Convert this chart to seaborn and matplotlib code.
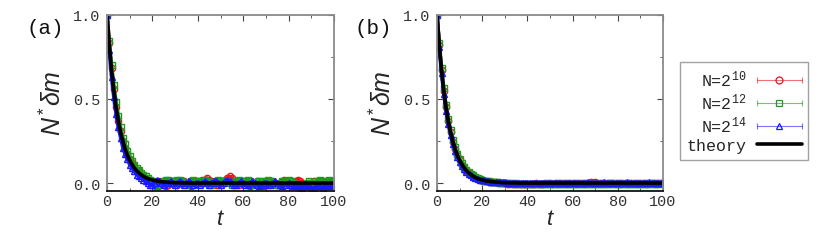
import numpy as np
import pandas as pd
import matplotlib
matplotlib.use("Agg")
import matplotlib.pyplot as plt
import seaborn as sns
from matplotlib.lines import Line2D
from matplotlib.legend_handler import HandlerLine2D, HandlerTuple
from matplotlib.ticker import MultipleLocator

# ---------------- data ----------------
t = list(range(0, 101))

theory_t = list(range(0, 41)) + [100]
theory_y = [1.000, 0.819, 0.670, 0.549, 0.449, 0.368, 0.301, 0.247, 0.202, 0.165,
            0.135, 0.111, 0.091, 0.074, 0.061, 0.050, 0.041, 0.033, 0.027, 0.022,
            0.018, 0.015, 0.012, 0.010, 0.008, 0.007, 0.006, 0.005, 0.004, 0.003,
            0.002, 0.002, 0.002, 0.001, 0.001, 0.001, 0.000, 0.000, 0.000, 0.000,
            0.000, 0.000]

# panel (a)
a_n10 = [1.00, 0.83, 0.68, 0.56, 0.45, 0.37, 0.31, 0.25, 0.21, 0.17, 0.14, 0.12, 0.10, 0.08, 0.07, 0.05, 0.04, 0.03, 0.02, 0.01, 0.00,
         -0.01, 0.00, 0.01, 0.00, -0.01, -0.02, -0.01, 0.00, 0.01, 0.00, -0.01, 0.00, 0.01, 0.01, 0.00, -0.01, -0.02, -0.01, 0.00, 0.01,
         0.01, 0.02, 0.02, 0.03, 0.02, 0.01, 0.00, -0.01, -0.01, 0.00, 0.01, 0.02, 0.03, 0.04, 0.03, 0.01, 0.00, -0.01, 0.00, 0.01,
         0.00, -0.01, -0.02, -0.01, 0.00, 0.01, 0.00, -0.01, -0.02, -0.01, 0.00, 0.01, 0.01, 0.00, -0.01, 0.00, 0.01, 0.02, 0.01, 0.00,
         -0.01, 0.00, 0.01, 0.02, 0.01, 0.00, -0.01, -0.02, -0.01, 0.00, 0.01, 0.00, -0.01, 0.00, 0.01, 0.00, -0.01, 0.00, 0.01, 0.00]
a_n12 = [1.00, 0.84, 0.70, 0.58, 0.48, 0.40, 0.33, 0.27, 0.23, 0.19, 0.16, 0.13, 0.11, 0.09, 0.08, 0.06, 0.05, 0.04, 0.03, 0.02, 0.01,
         -0.01, -0.02, -0.01, 0.00, 0.01, 0.02, 0.02, 0.01, 0.00, 0.01, 0.02, 0.02, 0.01, 0.00, -0.01, 0.00, 0.01, 0.02, 0.01, 0.00,
         0.00, 0.01, 0.02, 0.01, 0.00, -0.01, 0.00, 0.01, 0.02, 0.01, 0.00, 0.01, 0.01, 0.00, -0.01, 0.00, 0.01, 0.02, 0.01, 0.00,
         0.01, 0.02, 0.01, 0.00, -0.01, 0.00, 0.01, 0.01, 0.00, 0.01, 0.02, 0.01, 0.00, -0.01, -0.01, 0.00, 0.01, 0.00, 0.01, 0.02,
         0.01, 0.00, -0.01, -0.02, -0.03, -0.02, -0.01, 0.00, 0.01, 0.00, -0.01, 0.00, 0.01, 0.02, 0.01, 0.00, 0.01, 0.02, 0.01, 0.01]
a_n14 = [1.00, 0.79, 0.63, 0.51, 0.41, 0.33, 0.27, 0.21, 0.17, 0.14, 0.11, 0.09, 0.07, 0.05, 0.04, 0.03, 0.02, 0.01, 0.00, -0.01, -0.01,
         0.00, 0.02, 0.01, 0.00, -0.01, 0.00, 0.00, 0.01, 0.00, -0.01, 0.00, 0.01, 0.00, -0.01, 0.00, 0.01, 0.00, -0.01, 0.00, 0.00,
         -0.01, 0.00, 0.01, 0.00, -0.01, 0.00, 0.01, 0.01, 0.00, -0.01, 0.00, 0.01, 0.02, 0.01, 0.00, -0.01, -0.01, 0.00, 0.01, 0.00,
         -0.01, -0.01, 0.00, 0.01, 0.00, -0.01, -0.02, -0.01, 0.00, 0.00, -0.01, -0.01, 0.00, 0.01, 0.00, -0.01, -0.02, -0.01, -0.01, 0.00,
         -0.01, -0.02, -0.02, -0.01, -0.02, -0.03, -0.02, -0.01, -0.02, -0.03, -0.03, -0.02, -0.01, -0.02, -0.03, -0.02, -0.02, -0.01, -0.02, -0.01]

# panel (b)
b_n10 = [1.000, 0.820, 0.671, 0.548, 0.450, 0.367, 0.302, 0.246, 0.203, 0.164, 0.136, 0.110, 0.092, 0.073, 0.062, 0.049, 0.042, 0.032, 0.028, 0.021, 0.018,
         0.014, 0.011, 0.009, 0.007, 0.005, 0.004, 0.002, 0.001, 0.000, -0.002, -0.003, -0.004, -0.003, -0.004, -0.005, -0.004, -0.003, -0.004, -0.005, -0.004,
         -0.003, -0.004, -0.003, -0.002, -0.003, -0.004, -0.003, -0.002, -0.001, -0.002, -0.003, -0.002, -0.001, 0.000, -0.001, -0.002, -0.001, 0.000, 0.001, 0.000,
         0.001, 0.002, 0.001, 0.002, 0.003, 0.002, 0.003, 0.004, 0.003, 0.004, 0.003, 0.002, 0.001, 0.000, -0.001, 0.000, 0.001, 0.000, -0.001, 0.000,
         0.001, 0.002, 0.001, 0.000, -0.001, 0.000, 0.001, 0.002, 0.001, 0.000, 0.001, 0.002, 0.003, 0.002, 0.001, 0.000, 0.001, 0.000, -0.001, 0.000]
b_n12 = [1.000, 0.830, 0.685, 0.562, 0.462, 0.380, 0.312, 0.257, 0.212, 0.174, 0.143, 0.118, 0.097, 0.080, 0.066, 0.054, 0.045, 0.037, 0.030, 0.025, 0.021,
         0.015, 0.012, 0.010, 0.008, 0.006, 0.005, 0.004, 0.003, 0.002, 0.001, 0.000, -0.001, -0.002, -0.003, -0.002, -0.003, -0.004, -0.003, -0.004, -0.005,
         -0.004, -0.005, -0.004, -0.003, -0.004, -0.005, -0.004, -0.005, -0.006, -0.005, -0.004, -0.005, -0.004, -0.003, -0.004, -0.005, -0.004, -0.003, -0.004, -0.005,
         -0.004, -0.005, -0.006, -0.005, -0.004, -0.005, -0.004, -0.003, -0.004, -0.005, -0.004, -0.003, -0.004, -0.005, -0.004, -0.003, -0.002, -0.003, -0.004, -0.003,
         -0.004, -0.005, -0.004, -0.003, -0.004, -0.005, -0.006, -0.005, -0.004, -0.003, -0.004, -0.005, -0.004, -0.003, -0.002, -0.003, -0.004, -0.003, -0.002, -0.003]
b_n14 = [1.000, 0.805, 0.652, 0.530, 0.430, 0.350, 0.285, 0.232, 0.189, 0.154, 0.125, 0.102, 0.083, 0.067, 0.055, 0.045, 0.036, 0.030, 0.024, 0.019, 0.016,
         0.016, 0.013, 0.011, 0.009, 0.008, 0.007, 0.006, 0.005, 0.004, 0.004, 0.003, 0.003, 0.003, 0.002, 0.003, 0.003, 0.002, 0.003, 0.003, 0.002,
         0.003, 0.003, 0.002, 0.003, 0.003, 0.002, 0.003, 0.003, 0.003, 0.002, 0.003, 0.003, 0.002, 0.003, 0.003, 0.002, 0.003, 0.003, 0.002, 0.003,
         0.003, 0.002, 0.003, 0.003, 0.002, 0.003, 0.004, 0.003, 0.002, 0.003, 0.003, 0.002, 0.003, 0.004, 0.003, 0.002, 0.003, 0.003, 0.002, 0.003,
         0.003, 0.002, 0.003, 0.004, 0.003, 0.002, 0.003, 0.003, 0.002, 0.003, 0.003, 0.002, 0.003, 0.004, 0.003, 0.002, 0.003, 0.003, 0.002, 0.003]

series_labels = ["N=2$^{10}$", "N=2$^{12}$", "N=2$^{14}$"]
series_colors = ["#e8141a", "#1f9a1f", "#1a1aff"]
series_markers = ["o", "s", "^"]

panels = {"(a)": [a_n10, a_n12, a_n14], "(b)": [b_n10, b_n12, b_n14]}

# ---------------- style ----------------
sns.set_theme(style="ticks")
plt.rcParams["font.family"] = ["Liberation Mono", "DejaVu Sans"]
plt.rcParams["mathtext.default"] = "regular"
plt.rcParams["mathtext.fontset"] = "custom"
plt.rcParams["mathtext.it"] = "Liberation Sans:italic"
plt.rcParams["mathtext.rm"] = "Liberation Sans"

W, H = 817, 253
fig = plt.figure(figsize=(W / 100, H / 100), dpi=100)

axes_px = {"(a)": (107, 227), "(b)": (437, 226)}
label_px = {"(a)": 45, "(b)": 373}
frame_grey = "#8a8a8a"

for name, series in panels.items():
    x0, w = axes_px[name]
    ax = fig.add_axes([x0 / W, 1 - 192 / H, w / W, (192 - 15.5) / H])

    for vals, lab, col, mk in zip(series, series_labels, series_colors, series_markers):
        df = pd.DataFrame({"t": t, "v": vals})
        sns.lineplot(data=df, x="t", y="v", ax=ax, color=col, marker=mk,
                     markersize=4.5, markerfacecolor="none", markeredgecolor=col,
                     markeredgewidth=1.0, lw=2.6, legend=False)
    sns.lineplot(x=theory_t, y=theory_y, ax=ax, color="black", lw=2.6, legend=False)

    ax.set_xlim(0, 100)
    ax.set_ylim(-0.047, 1.0)
    ax.xaxis.set_major_locator(MultipleLocator(20))
    ax.xaxis.set_minor_locator(MultipleLocator(10))
    ax.yaxis.set_major_locator(MultipleLocator(0.5))
    ax.yaxis.set_minor_locator(MultipleLocator(0.25))
    ax.set_xticklabels([f"{v:g}" for v in ax.get_xticks()])
    ax.set_yticks([0.0, 0.5, 1.0])
    ax.set_yticklabels(["0.0", "0.5", "1.0"])
    ax.tick_params(which="both", direction="in", top=True, right=True,
                   colors="#444444", labelcolor="#333333", labelsize=11)
    ax.tick_params(which="major", length=4, width=0.8)
    ax.tick_params(which="minor", length=2.5, width=0.6)
    ax.tick_params(axis="y", pad=5)
    ax.tick_params(axis="x", pad=2)

    for side in ["left", "top", "right"]:
        ax.spines[side].set_color(frame_grey)
        ax.spines[side].set_linewidth(1.3)
    ax.spines["bottom"].set_color("#111111")
    ax.spines["bottom"].set_linewidth(1.3)

    ax.set_xlabel(r"$\mathit{t}$", fontsize=16, labelpad=0)
    ax.set_ylabel(r"$\mathit{N}^{*}\mathit{\delta m}$", fontsize=18, labelpad=5)

    fig.text(label_px[name] / W, 1 - 28 / H, name, fontsize=15,
             ha="center", va="center", color="#111111")

# legend: text on the left, error-bar style handle on the right
handles = []
hmap = {tuple: HandlerTuple(ndivide=1, pad=0)}
for col, mk in zip(series_colors, series_markers):
    bar = Line2D([0], [0], color=col, lw=0.8, marker="|", markersize=4,
                 markeredgewidth=0.8, alpha=0.6)
    pt = Line2D([0], [0], color=col, ls="none", marker=mk, markersize=5,
                markerfacecolor="none", markeredgewidth=0.9)
    hmap[bar] = HandlerLine2D(numpoints=2, marker_pad=0)
    hmap[pt] = HandlerLine2D(numpoints=1)
    handles.append((bar, pt))
handles.append(Line2D([0], [0], color="black", lw=2.6))

leg = fig.legend(handles, series_labels + ["theory"], handler_map=hmap,
                 loc="upper left", bbox_to_anchor=(680 / W, 1 - 63 / H),
                 markerfirst=False, frameon=True, fancybox=False,
                 prop={"family": "Liberation Mono", "size": 12},
                 handlelength=2.7, handletextpad=0.6, labelspacing=0.15,
                 borderpad=0.4, borderaxespad=0)
leg.get_frame().set_edgecolor(frame_grey)
leg.get_frame().set_linewidth(1.0)

fig.savefig("out.png", dpi=100)
